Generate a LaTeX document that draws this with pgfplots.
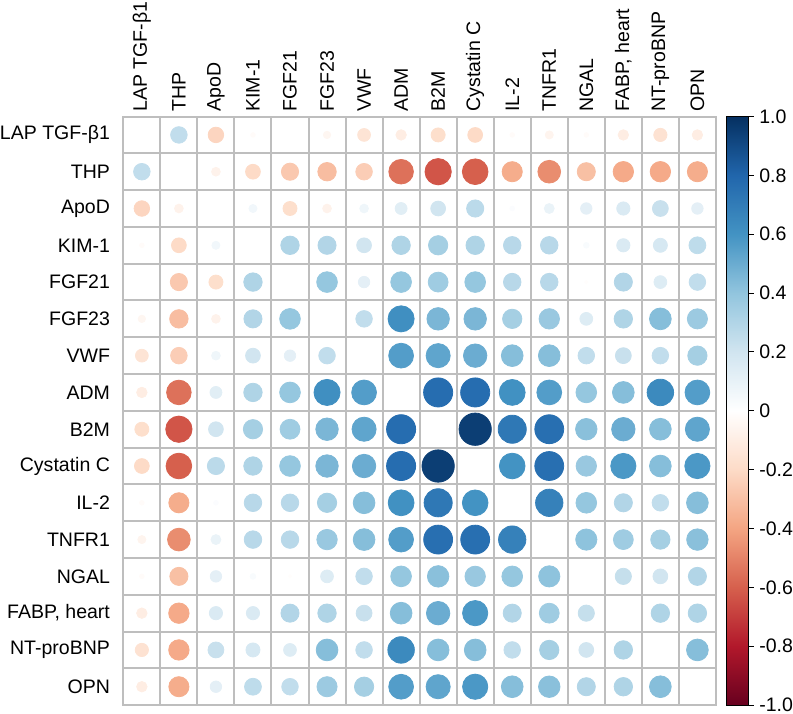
\documentclass[border=0pt]{standalone}
\usepackage{pgfplots}
\usepackage{pgfplotstable}
\usepackage{fontspec}
\setmainfont{Liberation Sans}
\pgfplotsset{compat=1.18}
\definecolor{gridgrey}{HTML}{BEBEBE}

% upper triangle of the correlation matrix (row < col)
\pgfplotstableread{
row col r
1 2 0.25
1 3 -0.22
1 4 -0.02
1 5 0.00
1 6 -0.05
1 7 -0.15
1 8 -0.10
1 9 -0.18
1 10 -0.20
1 11 -0.02
1 12 -0.06
1 13 -0.02
1 14 -0.10
1 15 -0.16
1 16 -0.10
2 3 -0.07
2 4 -0.20
2 5 -0.27
2 6 -0.31
2 7 -0.25
2 8 -0.55
2 9 -0.63
2 10 -0.60
2 11 -0.37
2 12 -0.47
2 13 -0.30
2 14 -0.38
2 15 -0.38
2 16 -0.37
3 4 0.06
3 5 -0.18
3 6 -0.07
3 7 0.07
3 8 0.13
3 9 0.20
3 10 0.27
3 11 0.02
3 12 0.09
3 13 0.12
3 14 0.16
3 15 0.23
3 16 0.12
4 5 0.31
4 6 0.30
4 7 0.20
4 8 0.31
4 9 0.34
4 10 0.31
4 11 0.28
4 12 0.28
4 13 0.03
4 14 0.16
4 15 0.18
4 16 0.26
5 6 0.39
5 7 0.12
5 8 0.39
5 9 0.36
5 10 0.39
5 11 0.28
5 12 0.28
5 13 -0.01
5 14 0.30
5 15 0.15
5 16 0.25
6 7 0.25
6 8 0.62
6 9 0.46
6 10 0.46
6 11 0.34
6 12 0.38
6 13 0.15
6 14 0.31
6 15 0.43
6 16 0.37
7 8 0.56
7 9 0.53
7 10 0.50
7 11 0.43
7 12 0.43
7 13 0.25
7 14 0.23
7 15 0.25
7 16 0.34
8 9 0.77
8 10 0.77
8 11 0.61
8 12 0.56
8 13 0.39
8 14 0.43
8 15 0.64
8 16 0.56
9 10 0.95
9 11 0.72
9 12 0.76
9 13 0.42
9 14 0.50
9 15 0.43
9 16 0.53
10 11 0.60
10 12 0.76
10 13 0.38
10 14 0.58
10 15 0.43
10 16 0.58
11 12 0.68
11 13 0.39
11 14 0.30
11 15 0.25
11 16 0.43
12 13 0.41
12 14 0.36
12 15 0.34
12 16 0.42
13 14 0.24
13 15 0.20
13 16 0.30
14 15 0.31
14 16 0.31
15 16 0.43
}\corrtab

\pgfplotsset{
    corrdots/.style={
        scatter, only marks, mark=*,
        point meta=explicit,
        scatter/use mapped color={draw=mapped color, fill=mapped color},
        visualization depends on={8.28*sqrt(abs(\thisrow{r})) \as \rad},
        scatter/@pre marker code/.append style={/tikz/mark size=\rad},
    },
}

\begin{document}
\begin{tikzpicture}
\begin{axis}[
    scale only axis,
    width=296pt, height=294pt,
    xmin=0.5, xmax=16.5, ymin=0.5, ymax=16.5,
    y dir=reverse,
    xtick={1,...,16}, ytick={1,...,16},
    xticklabels={LAP TGF-β1,THP,ApoD,KIM-1,FGF21,FGF23,VWF,ADM,B2M,Cystatin C,IL-2,TNFR1,NGAL,{FABP, heart},NT-proBNP,OPN},
    yticklabels={LAP TGF-β1,THP,ApoD,KIM-1,FGF21,FGF23,VWF,ADM,B2M,Cystatin C,IL-2,TNFR1,NGAL,{FABP, heart},NT-proBNP,OPN},
    xticklabel pos=upper,
    every tick label/.append style={font=\fontsize{9.75}{11}\selectfont, inner sep=0pt},
    xticklabel style={rotate=90, anchor=west, inner xsep=0.8pt},
    xticklabel shift=1.5pt,
    yticklabel shift=6.5pt,
    major tick length=0pt,
    minor xtick={1.5,2.5,...,15.5},
    minor ytick={1.5,2.5,...,15.5},
    minor tick length=0pt,
    xminorgrids, yminorgrids,
    minor grid style={draw=gridgrey, line width=1pt},
    axis line style={draw=gridgrey, line width=1pt},
    colormap={rdbu}{rgb255=(103,0,31) rgb255=(178,24,43) rgb255=(214,96,77)
      rgb255=(244,165,130) rgb255=(253,219,199) rgb255=(255,255,255)
      rgb255=(209,229,240) rgb255=(146,197,222) rgb255=(67,147,195)
      rgb255=(33,102,172) rgb255=(5,48,97)},
    point meta min=-1, point meta max=1,
    colorbar right,
    colorbar shift/.style={xshift=5pt},
    colorbar style={
        width=11pt,
        ytick={-1,-0.8,-0.6,-0.4,-0.2,0,0.2,0.4,0.6,0.8,1},
        yticklabels={-1.0,-0.8,-0.6,-0.4,-0.2,0,0.2,0.4,0.6,0.8,1.0},
        ytick pos=right,
        tick align=outside,
        major tick length=2.5pt,
        every tick/.style={black, line width=0.5pt},
        axis line style={draw=black, line width=0.5pt},
        yticklabel style={font=\fontsize{9.75}{11}\selectfont, inner xsep=0pt, inner ysep=0.6pt},
        yticklabel shift=2.5pt,
    },
]
\addplot[corrdots] table[x=col, y=row, meta=r] {\corrtab};
\addplot[corrdots] table[x=row, y=col, meta=r] {\corrtab};
\end{axis}
\end{tikzpicture}
\end{document}
